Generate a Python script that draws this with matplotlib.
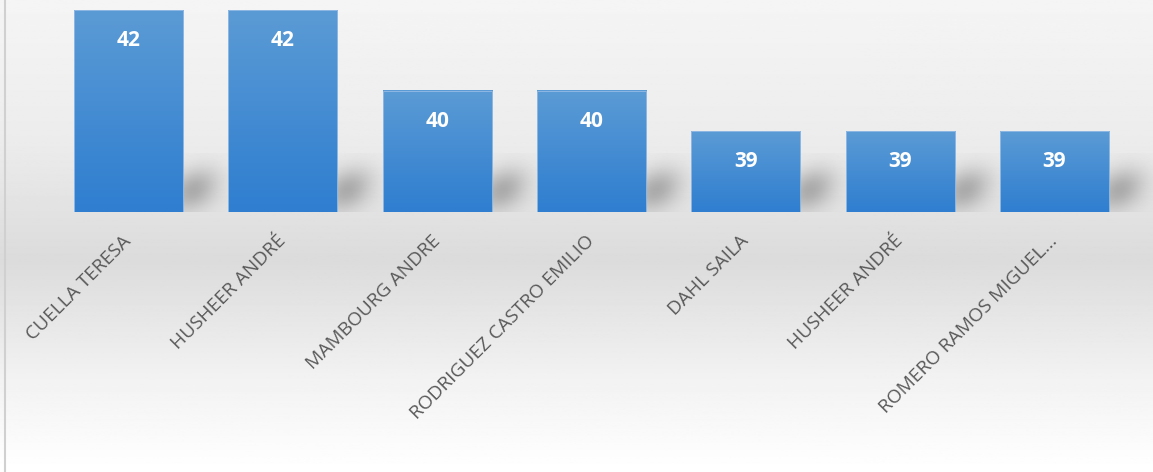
import numpy as np
import matplotlib
matplotlib.use("Agg")
import matplotlib.pyplot as plt
from matplotlib.colors import LinearSegmentedColormap
from matplotlib.patches import Rectangle

names = ["CUELLA TERESA", "HUSHEER ANDRÉ", "MAMBOURG ANDRE", "RODRIGUEZ CASTRO EMILIO",
         "DAHL SAILA", "HUSHEER ANDRÉ", "ROMERO RAMOS MIGUEL..."]
values = [42, 42, 40, 40, 39, 39, 39]
y_min, y_max = 37, 42

W, H = 1153, 472
fig = plt.figure(figsize=(W / 100, H / 100), dpi=100)

# background gradient over whole figure
bg = fig.add_axes([0, 0, 1, 1], zorder=-10)
stops = np.array([0, 140, 260, 380, 472]) / H
greys = np.array([0.96, 0.925, 0.86, 0.95, 1.0])
yy = np.linspace(0, 1, 400)
col = np.interp(yy, stops, greys)
bg.imshow(np.repeat(col[:, None], 2, axis=1), cmap="gray", vmin=0, vmax=1,
          aspect="auto", extent=[0, 1, 1, 0])
bg.set_xlim(0, 1)
bg.set_ylim(1, 0)
bg.axis("off")
bg.plot([5 / W, 5 / W], [0, 1], color="#d0d0d0", lw=1.5)

ax = fig.add_axes([51.5 / W, (H - 212) / H, 1080 / W, 202 / H])
ax.patch.set_alpha(0)
x = np.arange(len(values))
bw = 0.707

bar_cmap = LinearSegmentedColormap.from_list("b", ["#5b9bd5", "#2f7ed0"])
shadow_w = 0.36
for xi, v in zip(x, values):
    # soft shadow to the right of each bar
    h = min(v - y_min, 1.45)
    nx, ny = 80, 80
    u = np.linspace(0, 1, nx)[None, :]
    t = np.linspace(1, 0, ny)[:, None]  # 1 at top, 0 at base
    centre = 0.05 + 0.35 * t
    a = np.exp(-((u - centre) / 0.42) ** 2) * np.exp(-((t - 0.38) / 0.36) ** 2)
    a = np.clip(a, 0, 1) * 0.38
    img = np.zeros((ny, nx, 4))
    img[..., :3] = 0.3
    img[..., 3] = a
    ax.imshow(img, extent=[xi + bw / 2, xi + bw / 2 + shadow_w, y_min, y_min + h],
              aspect="auto", zorder=1, interpolation="bicubic", clip_on=False)
    # bar with vertical gradient
    grad = np.linspace(0, 1, 100)[:, None]
    ax.imshow(grad, cmap=bar_cmap, extent=[xi - bw / 2, xi + bw / 2, y_min, v],
              aspect="auto", zorder=2, interpolation="bilinear")
    ax.add_patch(Rectangle((xi - bw / 2, y_min), bw, v - y_min, fill=False,
                           edgecolor="#8fb8e3", lw=0.7, zorder=2.5))
    ax.annotate(str(v), (xi, v), xytext=(0, -22), textcoords="offset points",
                ha="center", va="center", color="white", fontsize=15,
                fontweight="bold", family="Open Sans", zorder=3)

ax.set_xlim(-0.5, len(values) - 0.5)
ax.set_ylim(y_min, y_max)
ax.set_yticks([])
ax.set_xticks(x)
ax.set_xticklabels(names, rotation=45, ha="right", va="center",
                   rotation_mode="anchor", fontsize=13.8, color="#595959",
                   family="Open Sans")
ax.tick_params(axis="x", length=0, pad=19)
for s in ax.spines.values():
    s.set_visible(False)

fig.savefig("out.png", dpi=100)
